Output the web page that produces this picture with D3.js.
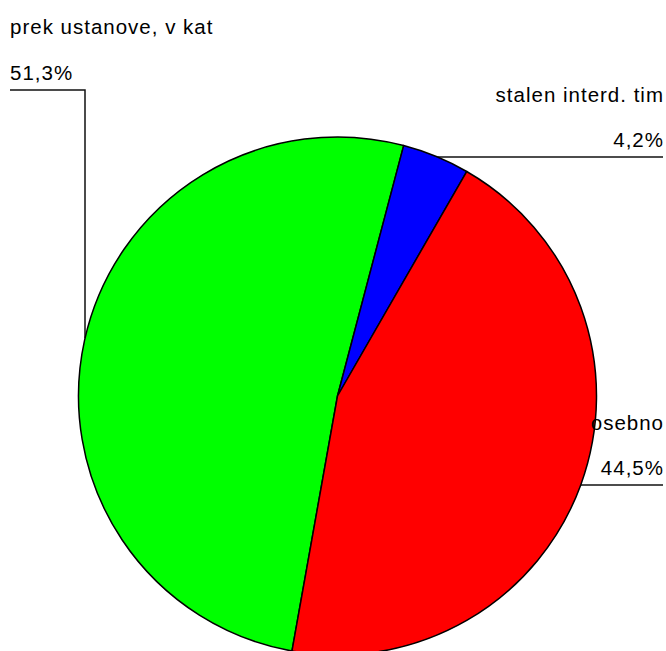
<!DOCTYPE html>
<html>
<head>
<meta charset="utf-8">
<script src="https://cdn.jsdelivr.net/npm/d3@7"></script>
<style>
  html, body { margin: 0; padding: 0; background: #fff; }
  svg { display: block; }
  text { font-family: "Liberation Sans", Arial, Helvetica, sans-serif; font-size: 20.5px; fill: #000; letter-spacing: 1px; }
</style>
</head>
<body>
<svg id="chart" width="666" height="651"></svg>
<script>
// Slice data, in drawing order (clockwise)
const categories = ["prek ustanove, v kat", "stalen interd. tim", "osebno"];
const values = [51.3, 4.2, 44.5];
const valueLabels = ["51,3%", "4,2%", "44,5%"];
const colors = ["#00ff00", "#0000ff", "#ff0000"];

const width = 666, height = 651;
const cx = 337.5, cy = 396, r = 259;
const deg = Math.PI / 180;
// first slice ends where the second begins, a little right of twelve o'clock
const startDeg = 14.8 - values[0] / 100 * 360;

const svg = d3.select("#chart");

const pie = d3.pie()
  .sort(null)
  .value(d => d)
  .startAngle(startDeg * deg)
  .endAngle((startDeg + 360) * deg);

const arcs = pie(values);
const arc = d3.arc().innerRadius(0).outerRadius(r);

// label layout: text column, baselines and leader line
const labelLayout = [
  { anchor: "start", x: 10, y1: 34, y2: 80, lineY: 90, elbowX: 85 },
  { anchor: "end", x: 664, y1: 102, y2: 147, lineY: 157 },
  { anchor: "end", x: 664, y1: 430, y2: 475, lineY: 485 }
];

// leader lines (drawn under the pie)
const leaders = svg.append("g")
  .attr("fill", "none")
  .attr("stroke", "#111")
  .attr("stroke-width", 1.5);

labelLayout.forEach((L, i) => {
  if (L.anchor === "start") {
    const yEdge = cy - Math.sqrt(r * r - (L.elbowX - cx) * (L.elbowX - cx));
    leaders.append("path")
      .attr("d", `M${L.x},${L.lineY}H${L.elbowX}V${yEdge}`);
  } else {
    const xEdge = cx + Math.sqrt(r * r - (L.lineY - cy) * (L.lineY - cy));
    leaders.append("path")
      .attr("d", `M${xEdge},${L.lineY}H${L.x - 1}`);
  }
});

// pie slices
svg.append("g")
  .attr("transform", `translate(${cx},${cy})`)
  .selectAll("path")
  .data(arcs)
  .join("path")
  .attr("d", arc)
  .attr("fill", (d, i) => colors[i])
  .attr("stroke", "#000")
  .attr("stroke-width", 1.5)
  .attr("stroke-linejoin", "round");

// labels
const labels = svg.append("g");
labelLayout.forEach((L, i) => {
  labels.append("text")
    .attr("x", L.x)
    .attr("y", L.y1)
    .attr("text-anchor", L.anchor)
    .text(categories[i]);
  labels.append("text")
    .attr("x", L.x)
    .attr("y", L.y2)
    .attr("text-anchor", L.anchor)
    .text(valueLabels[i]);
});
</script>
</body>
</html>
